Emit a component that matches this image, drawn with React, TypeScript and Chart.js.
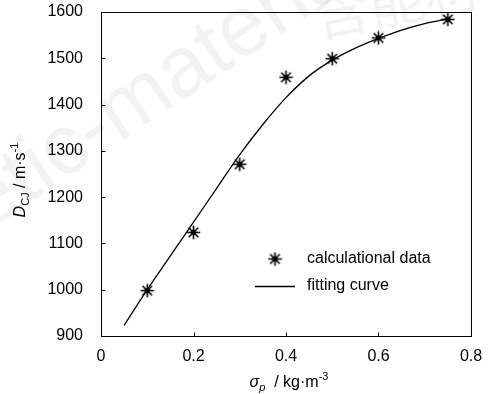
import React, { useEffect, useRef } from "react";
import { Chart, registerables } from "chart.js";

Chart.register(...registerables);

// calculational data
const sigmaP = [0.1, 0.2, 0.3, 0.4, 0.5, 0.6, 0.75];
const dcjCalc = [998, 1124, 1271, 1459, 1499, 1544, 1584];

// fitting curve
const fitX = [0.05, 0.1, 0.15, 0.2, 0.25, 0.3, 0.35, 0.4, 0.45, 0.5, 0.55, 0.6, 0.65, 0.7, 0.75];
const fitY = [923, 1000, 1073, 1146, 1219, 1292, 1357, 1415, 1462, 1496, 1522, 1543, 1561, 1575, 1585];

const xTickValues = [0, 0.2, 0.4, 0.6, 0.8];
const xTickLabels = ["0", "0.2", "0.4", "0.6", "0.8"];
const yTickValues = [900, 1000, 1100, 1200, 1300, 1400, 1500, 1600];

const legendLabels = ["calculational data", "fitting curve"];
const FONT = "'Liberation Sans', Arial, sans-serif";

function makeStar(): HTMLCanvasElement {
  const c = document.createElement("canvas");
  c.width = 15;
  c.height = 15;
  const g = c.getContext("2d")!;
  g.strokeStyle = "#000";
  g.lineWidth = 1.6;
  const m = 7.5, r = 6.8, d = 4.8;
  g.beginPath();
  g.moveTo(m, m - r); g.lineTo(m, m + r);
  g.moveTo(m - r, m); g.lineTo(m + r, m);
  g.moveTo(m - d, m - d); g.lineTo(m + d, m + d);
  g.moveTo(m - d, m + d); g.lineTo(m + d, m - d);
  g.stroke();
  g.beginPath();
  g.arc(m, m, 2.8, 0, Math.PI * 2);
  g.fillStyle = "#000";
  g.fill();
  return c;
}

type Seg = { t: string; f: string; dy: number };

function drawRich(ctx: CanvasRenderingContext2D, segs: Seg[], x: number, y: number) {
  let total = 0;
  for (const s of segs) { ctx.font = s.f; total += ctx.measureText(s.t).width; }
  let cx = x - total / 2;
  ctx.textAlign = "left";
  ctx.textBaseline = "alphabetic";
  for (const s of segs) {
    ctx.font = s.f;
    ctx.fillText(s.t, cx, y + s.dy);
    cx += ctx.measureText(s.t).width;
  }
}

export default function App() {
  const ref = useRef<HTMLCanvasElement | null>(null);

  useEffect(() => {
    if (!ref.current) return;
    const star = makeStar();

    const decor = {
      id: "decor",
      beforeDraw(chart: any) {
        const ctx = chart.ctx as CanvasRenderingContext2D;
        ctx.save();
        ctx.fillStyle = "rgba(0,0,0,0.05)";
        ctx.font = `85px ${FONT}`;
        ctx.translate(-195, 353);
        ctx.rotate(-0.59);
        ctx.textAlign = "left";
        ctx.textBaseline = "alphabetic";
        ctx.fillText("energetic-materials", 0, 0);
        ctx.restore();
        ctx.save();
        ctx.fillStyle = "rgba(0,0,0,0.05)";
        ctx.font = `56px 'Noto Sans CJK SC', sans-serif`;
        ctx.translate(318, 38);
        ctx.rotate(-0.2);
        ctx.fillText("含能材料", 0, 0);
        ctx.restore();
      },
      afterDraw(chart: any) {
        const ctx = chart.ctx as CanvasRenderingContext2D;
        const a = chart.chartArea;
        const xs = chart.scales.x;
        const ys = chart.scales.y;
        ctx.save();
        ctx.strokeStyle = "#000";
        ctx.lineWidth = 1;
        const L = Math.round(a.left) + 0.5, R = Math.round(a.right) + 0.5;
        const T = Math.round(a.top) + 0.5, B = Math.round(a.bottom) + 0.5;
        ctx.strokeRect(L, T, R - L, B - T);
        ctx.beginPath();
        for (const v of xTickValues) {
          const px = Math.round(xs.getPixelForValue(v)) + 0.5;
          ctx.moveTo(px, B); ctx.lineTo(px, B - 4);
        }
        for (const v of yTickValues) {
          const py = Math.round(ys.getPixelForValue(v)) + 0.5;
          ctx.moveTo(L, py); ctx.lineTo(L + 4, py);
        }
        ctx.stroke();

        ctx.fillStyle = "#000";
        // x title
        drawRich(ctx, [
          { t: "σ", f: `italic 16px ${FONT}`, dy: 0 },
          { t: "p", f: `italic 11px ${FONT}`, dy: 4 },
          { t: "  / kg·m", f: `16px ${FONT}`, dy: 0 },
          { t: "-3", f: `11px ${FONT}`, dy: -7 },
        ], 289, 387);
        // y title
        ctx.save();
        ctx.translate(25, 180);
        ctx.rotate(-Math.PI / 2);
        drawRich(ctx, [
          { t: "D", f: `italic 16px ${FONT}`, dy: 0 },
          { t: "CJ", f: `11px ${FONT}`, dy: 4 },
          { t: " / m·s", f: `16px ${FONT}`, dy: 0 },
          { t: "-1", f: `11px ${FONT}`, dy: -7 },
        ], 0, 0);
        ctx.restore();

        // legend
        ctx.drawImage(star, 275 - 7.5, 259 - 7.5);
        ctx.beginPath();
        ctx.lineWidth = 1.5;
        ctx.moveTo(255, 286.5); ctx.lineTo(295, 286.5);
        ctx.stroke();
        ctx.font = `16px ${FONT}`;
        ctx.textAlign = "left";
        ctx.textBaseline = "middle";
        ctx.fillText(legendLabels[0], 307, 259);
        ctx.fillText(legendLabels[1], 307, 286);
        ctx.restore();
      },
    };

    const chart = new Chart(ref.current, {
      type: "scatter",
      data: {
        datasets: [
          {
            label: legendLabels[1],
            data: fitX.map((x, i) => ({ x, y: fitY[i] })),
            showLine: true,
            borderColor: "#000",
            borderWidth: 1.3,
            pointRadius: 0,
            cubicInterpolationMode: "monotone",
            fill: false,
          } as any,
          {
            label: legendLabels[0],
            data: sigmaP.map((x, i) => ({ x, y: dcjCalc[i] })),
            showLine: false,
            pointStyle: star as any,
            pointRadius: 7,
            borderColor: "#000",
            backgroundColor: "#000",
          } as any,
        ],
      },
      options: {
        responsive: false,
        animation: false,
        layout: { padding: { top: 12, right: 17, left: 0, bottom: 0 } },
        plugins: { legend: { display: false }, tooltip: { enabled: false } },
        scales: {
          x: {
            type: "linear",
            min: 0,
            max: 0.8,
            afterBuildTicks: (s: any) => { s.ticks = xTickValues.map((v) => ({ value: v })); },
            afterFit: (s: any) => { s.height = 58; s.paddingLeft = 0; s.paddingRight = 0; },
            ticks: {
              padding: 3,
              color: "#000",
              font: { size: 16, family: FONT },
              callback: (v: any) => xTickLabels[xTickValues.indexOf(Number(v))] ?? "",
              maxRotation: 0,
            },
            grid: { display: false },
            border: { display: false },
          },
          y: {
            type: "linear",
            min: 900,
            max: 1600,
            afterBuildTicks: (s: any) => { s.ticks = yTickValues.map((v) => ({ value: v })); },
            afterFit: (s: any) => { s.width = 101; s.paddingTop = 0; s.paddingBottom = 0; },
            ticks: {
              padding: 10,
              color: "#000",
              font: { size: 16, family: FONT },
              callback: (v: any) => String(v),
            },
            grid: { display: false },
            border: { display: false },
          },
        },
      } as any,
      plugins: [decor],
    });
    return () => chart.destroy();
  }, []);

  return (
    <div style={{ position: "absolute", left: 0, top: 0, width: 488, height: 394, background: "#fff" }}>
      <canvas ref={ref} width={488} height={394} style={{ display: "block" }} />
    </div>
  );
}
